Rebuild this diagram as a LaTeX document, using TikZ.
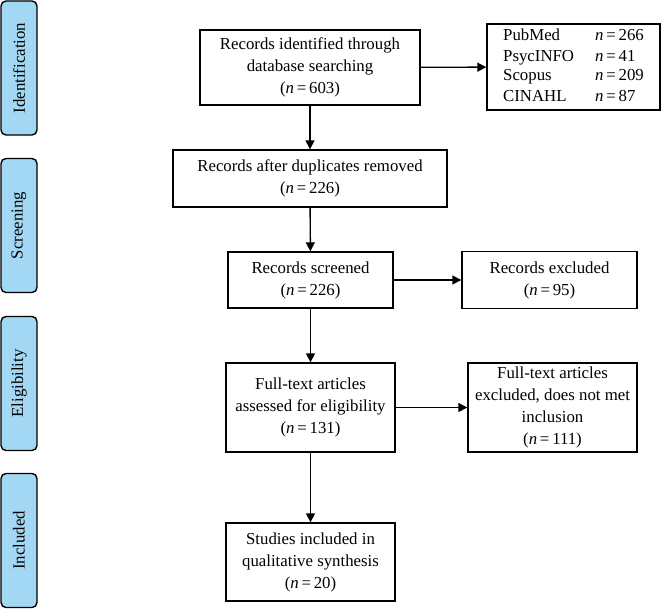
\documentclass[tikz,border=0pt]{standalone}
\usepackage{fontspec}
\setmainfont{Liberation Serif}
\usetikzlibrary{arrows.meta}
\definecolor{phaseblue}{RGB}{163,216,244}
\newcommand{\nval}[1]{(\textit{n}\,=\,#1)}
\newcommand{\nsrc}[1]{\textit{n}\,=\,#1}

\begin{document}
\begin{tikzpicture}[x=0.5pt,y=-0.5pt,
  font=\fontsize{8.4}{11}\selectfont,
  box/.style={draw,line width=0.7pt,align=center,inner sep=0pt},
  phase/.style={draw,line width=0.7pt,fill=phaseblue,rounded corners=2.5pt,
    minimum width=67pt,minimum height=18pt,rotate=90,inner sep=0pt},
  post/.style={-{Triangle[length=4.5pt,width=4.5pt]},line width=0.7pt}]

\useasboundingbox (0,0) rectangle (662,610);

% phases on the left
\node[phase] (ident) at (19,68) {Identification};
\node[phase] (screen) at (19,225.5) {Screening};
\node[phase] (elig) at (19,383.5) {Eligibility};
\node[phase] (incl) at (19,540.5) {Included};

% flow boxes
\node[box,minimum width=110pt,minimum height=37.5pt] (found) at (310,67.5)
  {Records identified through\\database searching\\\nval{603}};
\node[box,minimum width=86.5pt,minimum height=43pt] (dbs) at (573.5,67)
  {\fontsize{8.4}{10}\selectfont
   \begin{tabular}{@{}p{46pt}@{}l@{}}
   PubMed & \nsrc{266}\\
   PsycINFO & \nsrc{41}\\
   Scopus & \nsrc{209}\\
   CINAHL & \nsrc{87}
   \end{tabular}};
\node[box,minimum width=137pt,minimum height=28.5pt] (dedup) at (310,178.5)
  {Records after duplicates removed\\\nval{226}};
\node[box,minimum width=82.5pt,minimum height=28pt] (screened) at (310.5,280)
  {Records screened\\\nval{226}};
\node[box,minimum width=87.5pt,minimum height=28.5pt] (excl) at (549.5,280)
  {Records excluded\\\nval{95}};
\node[box,minimum width=84.5pt,minimum height=44.5pt] (fulltext) at (310.5,407.5)
  {Full-text articles\\assessed for eligibility\\\nval{131}};
\node[box,minimum width=84.5pt,minimum height=44.5pt] (ftexcl) at (552.5,407.5)
  {Full-text articles\\excluded, does not met\\inclusion\\\nval{111}};
\node[box,minimum width=84.5pt,minimum height=39pt] (studies) at (310.5,562)
  {Studies included in\\qualitative synthesis\\\nval{20}};

% arrows
\draw[post] (found) -- (dbs);
\draw[post] (found) -- (dedup);
\draw[post] (dedup) -- (screened);
\draw[post] (screened) -- (excl);
\draw[post] (screened) -- (fulltext);
\draw[post] (fulltext) -- (ftexcl);
\draw[post] (fulltext) -- (studies);

\end{tikzpicture}
\end{document}
